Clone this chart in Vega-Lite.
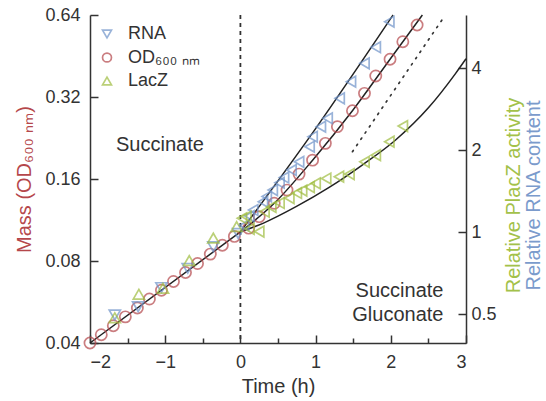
{
  "$schema": "https://vega.github.io/schema/vega-lite/v6.json",
  "width": 376,
  "height": 328,
  "autosize": "none",
  "padding": {"left": 90, "top": 15, "right": 80, "bottom": 58},
  "background": "white",
  "config": {
    "view": {"stroke": null},
    "font": "Liberation Sans",
    "axis": {
      "domainColor": "#333", "tickColor": "#333", "domainWidth": 1.5, "tickWidth": 1.5,
      "labelColor": "#333", "labelFont": "Liberation Sans", "labelFontSize": 18,
      "titleFont": "Liberation Sans", "titleFontSize": 20, "titleFontWeight": "normal",
      "titleColor": "#333", "grid": false
    },
    "legend": {
      "orient": "none", "legendX": 8, "legendY": 10,
      "labelFontSize": 18, "labelFont": "Liberation Sans", "labelColor": "#333",
      "symbolSize": 80, "symbolStrokeWidth": 1.7, "rowPadding": 5.5, "labelOffset": 12, "padding": 0
    }
  },
  "datasets": {
    "obs": [
      {"series": "OD₆₀₀ ₙₘ", "phase": "pre", "t": -2.0, "v": 0.040},
      {"series": "OD₆₀₀ ₙₘ", "phase": "pre", "t": -1.85, "v": 0.0429},
      {"series": "OD₆₀₀ ₙₘ", "phase": "pre", "t": -1.69, "v": 0.0463},
      {"series": "OD₆₀₀ ₙₘ", "phase": "pre", "t": -1.53, "v": 0.0499},
      {"series": "OD₆₀₀ ₙₘ", "phase": "pre", "t": -1.37, "v": 0.0538},
      {"series": "OD₆₀₀ ₙₘ", "phase": "pre", "t": -1.21, "v": 0.0580},
      {"series": "OD₆₀₀ ₙₘ", "phase": "pre", "t": -1.05, "v": 0.0625},
      {"series": "OD₆₀₀ ₙₘ", "phase": "pre", "t": -0.89, "v": 0.0673},
      {"series": "OD₆₀₀ ₙₘ", "phase": "pre", "t": -0.73, "v": 0.0726},
      {"series": "OD₆₀₀ ₙₘ", "phase": "pre", "t": -0.57, "v": 0.0783},
      {"series": "OD₆₀₀ ₙₘ", "phase": "pre", "t": -0.40, "v": 0.0848},
      {"series": "OD₆₀₀ ₙₘ", "phase": "pre", "t": -0.24, "v": 0.0914},
      {"series": "OD₆₀₀ ₙₘ", "phase": "pre", "t": -0.08, "v": 0.0985},
      {"series": "OD₆₀₀ ₙₘ", "phase": "post", "t": 0.11, "v": 0.1056},
      {"series": "OD₆₀₀ ₙₘ", "phase": "post", "t": 0.25, "v": 0.1164},
      {"series": "OD₆₀₀ ₙₘ", "phase": "post", "t": 0.45, "v": 0.1303},
      {"series": "OD₆₀₀ ₙₘ", "phase": "post", "t": 0.62, "v": 0.1457},
      {"series": "OD₆₀₀ ₙₘ", "phase": "post", "t": 0.78, "v": 0.1668},
      {"series": "OD₆₀₀ ₙₘ", "phase": "post", "t": 0.96, "v": 0.1876},
      {"series": "OD₆₀₀ ₙₘ", "phase": "post", "t": 1.13, "v": 0.2163},
      {"series": "OD₆₀₀ ₙₘ", "phase": "post", "t": 1.29, "v": 0.2490},
      {"series": "OD₆₀₀ ₙₘ", "phase": "post", "t": 1.49, "v": 0.2849},
      {"series": "OD₆₀₀ ₙₘ", "phase": "post", "t": 1.65, "v": 0.3301},
      {"series": "OD₆₀₀ ₙₘ", "phase": "post", "t": 1.80, "v": 0.3823},
      {"series": "OD₆₀₀ ₙₘ", "phase": "post", "t": 1.99, "v": 0.4402},
      {"series": "OD₆₀₀ ₙₘ", "phase": "post", "t": 2.16, "v": 0.5106},
      {"series": "OD₆₀₀ ₙₘ", "phase": "post", "t": 2.35, "v": 0.5881},
      {"series": "RNA", "phase": "pre", "t": -1.67, "v": 0.0507},
      {"series": "RNA", "phase": "pre", "t": -1.36, "v": 0.0544},
      {"series": "RNA", "phase": "pre", "t": -1.05, "v": 0.0639},
      {"series": "RNA", "phase": "pre", "t": -0.70, "v": 0.0752},
      {"series": "RNA", "phase": "pre", "t": -0.36, "v": 0.0903},
      {"series": "RNA", "phase": "pre", "t": -0.03, "v": 0.101},
      {"series": "RNA", "phase": "post", "t": 0.05, "v": 0.108},
      {"series": "RNA", "phase": "post", "t": 0.12, "v": 0.117},
      {"series": "RNA", "phase": "post", "t": 0.17, "v": 0.1231},
      {"series": "RNA", "phase": "post", "t": 0.30, "v": 0.1321},
      {"series": "RNA", "phase": "post", "t": 0.35, "v": 0.138},
      {"series": "RNA", "phase": "post", "t": 0.43, "v": 0.1457},
      {"series": "RNA", "phase": "post", "t": 0.52, "v": 0.155},
      {"series": "RNA", "phase": "post", "t": 0.58, "v": 0.162},
      {"series": "RNA", "phase": "post", "t": 0.68, "v": 0.1726},
      {"series": "RNA", "phase": "post", "t": 0.78, "v": 0.185},
      {"series": "RNA", "phase": "post", "t": 0.92, "v": 0.2102},
      {"series": "RNA", "phase": "post", "t": 0.96, "v": 0.2287},
      {"series": "RNA", "phase": "post", "t": 1.07, "v": 0.2490},
      {"series": "RNA", "phase": "post", "t": 1.16, "v": 0.2673},
      {"series": "RNA", "phase": "post", "t": 1.32, "v": 0.3165},
      {"series": "RNA", "phase": "post", "t": 1.47, "v": 0.3643},
      {"series": "RNA", "phase": "post", "t": 1.65, "v": 0.4255},
      {"series": "RNA", "phase": "post", "t": 1.80, "v": 0.4872},
      {"series": "RNA", "phase": "post", "t": 1.98, "v": 0.6047},
      {"series": "LacZ", "phase": "pre", "t": -1.67, "v": 0.0495},
      {"series": "LacZ", "phase": "pre", "t": -1.35, "v": 0.0604},
      {"series": "LacZ", "phase": "pre", "t": -1.03, "v": 0.0635},
      {"series": "LacZ", "phase": "pre", "t": -0.68, "v": 0.0803},
      {"series": "LacZ", "phase": "pre", "t": -0.36, "v": 0.0971},
      {"series": "LacZ", "phase": "pre", "t": -0.05, "v": 0.107},
      {"series": "LacZ", "phase": "post", "t": 0.02, "v": 0.1148},
      {"series": "LacZ", "phase": "post", "t": 0.08, "v": 0.1164},
      {"series": "LacZ", "phase": "post", "t": 0.12, "v": 0.1050},
      {"series": "LacZ", "phase": "post", "t": 0.25, "v": 0.1026},
      {"series": "LacZ", "phase": "post", "t": 0.32, "v": 0.1213},
      {"series": "LacZ", "phase": "post", "t": 0.41, "v": 0.1263},
      {"series": "LacZ", "phase": "post", "t": 0.52, "v": 0.1306},
      {"series": "LacZ", "phase": "post", "t": 0.65, "v": 0.1362},
      {"series": "LacZ", "phase": "post", "t": 0.75, "v": 0.1421},
      {"series": "LacZ", "phase": "post", "t": 0.82, "v": 0.1451},
      {"series": "LacZ", "phase": "post", "t": 0.92, "v": 0.1494},
      {"series": "LacZ", "phase": "post", "t": 1.00, "v": 0.1542},
      {"series": "LacZ", "phase": "post", "t": 1.14, "v": 0.1607},
      {"series": "LacZ", "phase": "post", "t": 1.31, "v": 0.1632},
      {"series": "LacZ", "phase": "post", "t": 1.45, "v": 0.1668},
      {"series": "LacZ", "phase": "post", "t": 1.65, "v": 0.1850},
      {"series": "LacZ", "phase": "post", "t": 1.80, "v": 0.1957},
      {"series": "LacZ", "phase": "post", "t": 1.98, "v": 0.2193},
      {"series": "LacZ", "phase": "post", "t": 2.16, "v": 0.2503}
    ],
    "fits": [
      {"curve": "pre", "t": -2.0, "v": 0.040},
      {"curve": "pre", "t": 0.0, "v": 0.1023},
      {"curve": "OD", "t": 0.0, "v": 0.1023},
      {"curve": "OD", "t": 0.45, "v": 0.1303},
      {"curve": "OD", "t": 0.96, "v": 0.1876},
      {"curve": "OD", "t": 1.49, "v": 0.2849},
      {"curve": "OD", "t": 1.99, "v": 0.4402},
      {"curve": "OD", "t": 2.42, "v": 0.64},
      {"curve": "RNA", "t": 0.0, "v": 0.1023},
      {"curve": "RNA", "t": 1.0, "v": 0.245},
      {"curve": "RNA", "t": 2.03, "v": 0.64},
      {"curve": "LacZ", "t": 0.0, "v": 0.1023},
      {"curve": "LacZ", "t": 0.3, "v": 0.110},
      {"curve": "LacZ", "t": 0.74, "v": 0.1266},
      {"curve": "LacZ", "t": 1.18, "v": 0.149},
      {"curve": "LacZ", "t": 1.62, "v": 0.180},
      {"curve": "LacZ", "t": 2.06, "v": 0.222},
      {"curve": "LacZ", "t": 2.5, "v": 0.292},
      {"curve": "LacZ", "t": 2.86, "v": 0.39},
      {"curve": "LacZ", "t": 3.0, "v": 0.442},
      {"curve": "ext", "t": 1.49, "v": 0.2015},
      {"curve": "ext", "t": 2.71, "v": 0.631}
    ]
  },
  "resolve": {"scale": {"y": "independent"}, "axis": {"x": "independent"}},
  "layer": [
    {
      "data": {"values": [{}]},
      "mark": {"type": "rule", "strokeDash": [4, 4], "strokeWidth": 1.8, "color": "#333"},
      "encoding": {
        "x": {"datum": 0, "type": "quantitative", "scale": {"domain": [-2, 3], "nice": false, "zero": false}, "axis": null}
      }
    },
    {
      "data": {"name": "fits"},
      "transform": [{"filter": "datum.curve !== 'ext'"}],
      "mark": {"type": "line", "color": "#222", "strokeWidth": 1.5, "interpolate": "monotone"},
      "encoding": {
        "x": {"field": "t", "type": "quantitative", "scale": {"domain": [-2, 3], "nice": false, "zero": false}, "axis": null},
        "y": {"field": "v", "type": "quantitative", "scale": {"type": "log", "base": 2, "domain": [0.04, 0.64], "nice": false, "zero": false}, "axis": null},
        "detail": {"field": "curve", "type": "nominal"}
      }
    },
    {
      "data": {"name": "fits"},
      "transform": [{"filter": "datum.curve === 'ext'"}],
      "mark": {"type": "line", "color": "#333", "strokeWidth": 1.7, "strokeDash": [1.5, 6], "strokeCap": "round"},
      "encoding": {
        "x": {
          "field": "t", "type": "quantitative", "title": null,
          "scale": {"domain": [-2, 3], "nice": false, "zero": false},
          "axis": {"orient": "bottom", "values": [-1.5, -0.5, 0.5, 1.5, 2.5], "labels": false, "domain": false, "tickSize": -5}
        },
        "y": {
          "field": "v", "type": "quantitative", "title": "Relative PlacZ activity",
          "scale": {"type": "log", "base": 2, "domain": [0.04, 0.64], "nice": false, "zero": false},
          "axis": {
            "orient": "right", "domain": false, "ticks": false, "labels": false,
            "titleColor": "#a3c14a", "titleAngle": 270, "titleBaseline": "top", "titleX": 37, "titleY": 180
          }
        }
      }
    },
    {
      "data": {"name": "obs"},
      "transform": [{"filter": "datum.phase === 'pre' || datum.series !== 'RNA' && datum.series !== 'LacZ'"}],
      "mark": {"type": "point", "filled": false, "strokeWidth": 1.7, "size": 125},
      "encoding": {
        "x": {
          "field": "t", "type": "quantitative", "title": "Time (h)",
          "scale": {"domain": [-2, 3], "nice": false, "zero": false},
          "axis": {
            "orient": "bottom", "values": [-2, -1, 0, 1, 2, 3],
            "labelExpr": "format(datum.value, 'd')",
            "tickSize": -8, "labelPadding": 18, "titlePadding": 5
          }
        },
        "y": {
          "field": "v", "type": "quantitative", "title": "Mass (OD₆₀₀ ₙₘ)",
          "scale": {"type": "log", "base": 2, "domain": [0.04, 0.64], "nice": false, "zero": false},
          "axis": {
            "orient": "left", "values": [0.04, 0.08, 0.16, 0.32, 0.64],
            "labelExpr": "format(datum.value, '.2f')",
            "tickSize": -8, "labelPadding": 18, "titleColor": "#b5474b", "titlePadding": 10
          }
        },
        "color": {
          "field": "series", "type": "nominal",
          "scale": {"domain": ["RNA", "OD₆₀₀ ₙₘ", "LacZ"], "range": ["#6f93c9", "#b5474b", "#9fbd3f"]},
          "legend": {"title": null}
        },
        "shape": {
          "field": "series", "type": "nominal",
          "scale": {"domain": ["RNA", "OD₆₀₀ ₙₘ", "LacZ"], "range": ["triangle-down", "circle", "triangle-up"]},
          "legend": {"title": null}
        }
      }
    },
    {
      "data": {"name": "obs"},
      "transform": [{"filter": "datum.phase === 'post' && (datum.series === 'RNA' || datum.series === 'LacZ')"}],
      "mark": {"type": "point", "filled": false, "strokeWidth": 1.7, "size": 115, "shape": "triangle-left"},
      "encoding": {
        "x": {"field": "t", "type": "quantitative", "scale": {"domain": [-2, 3], "nice": false, "zero": false}, "axis": null},
        "y": {
          "field": "v", "type": "quantitative", "title": "Relative RNA content",
          "scale": {"type": "log", "base": 2, "domain": [0.04, 0.64], "nice": false, "zero": false},
          "axis": {
            "orient": "right", "values": [0.051, 0.102, 0.204, 0.408],
            "labelExpr": "format(datum.value / 0.102, '.1~f')",
            "tickSize": -8, "labelPadding": 13,
            "titleColor": "#7b9bcc", "titleAngle": 270, "titleBaseline": "top", "titleX": 57, "titleY": 180
          }
        },
        "color": {"field": "series", "type": "nominal", "legend": null}
      }
    },
    {
      "data": {"values": [{}]},
      "mark": {"type": "text", "text": "Succinate", "fontSize": 20, "color": "#333", "align": "center", "baseline": "middle"},
      "encoding": {
        "x": {"datum": -1.07, "type": "quantitative", "scale": {"domain": [-2, 3], "nice": false, "zero": false}, "axis": null},
        "y": {"datum": 0.2133, "type": "quantitative", "scale": {"type": "log", "base": 2, "domain": [0.04, 0.64], "nice": false, "zero": false}, "axis": null}
      }
    },
    {
      "data": {"values": [{}]},
      "mark": {"type": "text", "text": "Succinate", "fontSize": 20, "color": "#333", "align": "right", "baseline": "middle"},
      "encoding": {
        "x": {"datum": 2.70, "type": "quantitative", "scale": {"domain": [-2, 3], "nice": false, "zero": false}, "axis": null},
        "y": {"datum": 0.0623, "type": "quantitative", "scale": {"type": "log", "base": 2, "domain": [0.04, 0.64], "nice": false, "zero": false}, "axis": null}
      }
    },
    {
      "data": {"values": [{}]},
      "mark": {"type": "text", "text": "Gluconate", "fontSize": 20, "color": "#333", "align": "right", "baseline": "middle"},
      "encoding": {
        "x": {"datum": 2.70, "type": "quantitative", "scale": {"domain": [-2, 3], "nice": false, "zero": false}, "axis": null},
        "y": {"datum": 0.0506, "type": "quantitative", "scale": {"type": "log", "base": 2, "domain": [0.04, 0.64], "nice": false, "zero": false}, "axis": null}
      }
    }
  ]
}
